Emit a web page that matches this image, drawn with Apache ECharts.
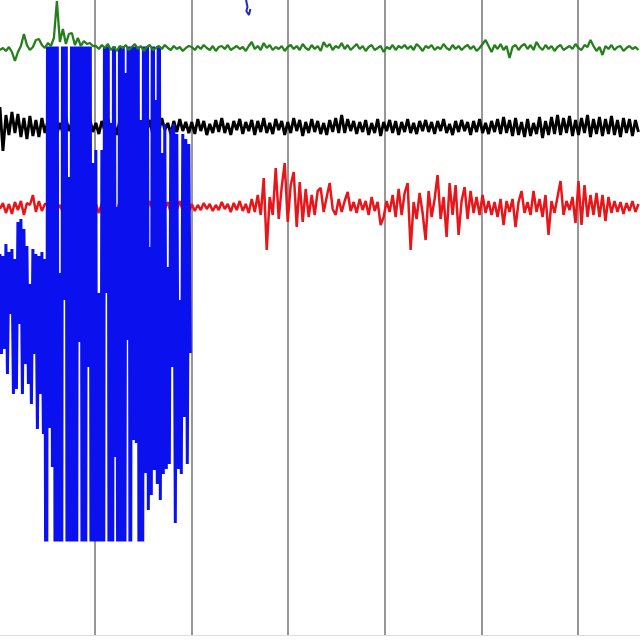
<!DOCTYPE html>
<html>
<head>
<meta charset="utf-8">
<script src="https://cdn.jsdelivr.net/npm/echarts@6/dist/echarts.min.js"></script>
<style>html,body{margin:0;padding:0;background:#fff}#c{width:640px;height:640px}</style>
</head>
<body>
<div id="c"></div>
<script>
// ---- data (amplitudes) ----
const traceStart = 0.2;      // s
const traceStep = 0.31;      // s between samples (green/black/red)
const blueStep = 0.155;      // s between samples (blue)

const greenTrace = [
 -2,0,-3,1,-4,-13,-4,2,14,3,-2,1,8,9,3,0,
 5,2,10,47,6,19,4,14,15,3,10,2,7,4,5,2,
 2,-1,3,0,4,-2,1,-3,2,0,3,-2,1,4,-1,2,-3,1,3,-2,0,2,-1,3,0,-2,2,-1,1,-3,0,2,
 1,-2,2,-1,3,0,-2,2,-3,1,
 2,-1,3,-2,0,2,-1,1,-3,2,
 6,-1,2,-2,5,0,3,-2,1,-1,
 2,-3,1,3,-1,2,-2,4,0,-2,
 3,-1,2,-3,6,1,4,-2,2,0,
 5,-1,3,-2,1,4,-1,2,-3,1,
 3,-2,0,2,-4,1,-1,3,-2,2,
 0,3,-1,2,-2,4,1,-3,2,0,
 3,-2,1,-1,4,0,-2,3,-1,2,
 -2,1,3,-1,2,-3,0,4,8,2,
 -4,3,-1,4,-2,2,-10,1,3,-2,
 2,4,-1,3,-2,6,1,-2,3,-1,
 2,-3,1,3,-2,0,2,-1,4,0,
 -2,3,1,8,2,-3,1,-7,2,-1,
 3,-2,1,2,-3,0,2,-1,1,-2
];

const blackTrace = [
 20,-24,12,-8,15,-6,13,-10,9,-12,11,-9,7,-10,9,-6,
 6,-5,8,-7,4,-6,9,-4,5,-8,7,-3,6,-6,8,-5,
 4,-7,6,-4,9,-6,5,-8,7,-3,4,-6,8,-5,6,-7,
 5,-4,7,-8,6,-5,9,-3,4,-7,6,-5,8,-4,5,-6,
 5,-7,8,-4,6,-8,3,-6,7,-5,
 9,-6,4,-8,6,-3,8,-7,5,-4,
 7,-8,6,-5,9,-6,4,-7,8,-3,
 6,-8,5,-6,9,-4,7,-9,5,-6,
 8,-5,6,-7,4,-8,7,-5,9,-6,
 12,-6,8,-4,6,-7,5,-5,7,-8,
 4,-6,8,-9,5,-4,7,-6,6,-8,
 5,-5,8,-6,4,-7,6,-4,7,-5,
 5,-7,6,-4,8,-6,3,-8,6,-5,
 7,-4,5,-8,6,-5,8,-6,4,-7,
 6,-5,8,-7,10,-6,7,-9,9,-8,
 5,-10,8,-9,4,-7,10,-11,6,-8,
 10,-7,12,-8,9,-6,11,-9,7,-8,
 9,-6,12,-10,8,-7,10,-9,8,-7,
 11,-8,7,-10,9,-6,8,-9,7,-5
];

const redTrace = [
 -2,4,-6,3,-7,5,-3,6,-8,4,2,12,-5,6,-4,3,
 3,-4,5,-3,2,-5,4,-2,6,-4,3,-5,2,-3,5,-4,
 3,-6,4,-2,5,-3,2,-4,6,-5,3,-2,4,-6,5,-3,
 2,-4,6,-3,4,-5,3,-2,5,-6,4,-3,6,-4,2,-5,
 3,-4,2,-3,4,-2,3,-4,2,-3,
 5,-2,3,-5,4,-3,6,-4,3,-6,
 8,-5,12,-8,29,-43,10,-8,39,-12,
 20,44,-15,22,35,-20,25,-15,18,-10,
 12,-8,16,19,-5,10,24,-2,-8,8,
 -5,6,15,-4,5,-6,8,-3,6,-8,
 10,-4,5,-18,-10,6,-5,12,-10,18,
 -8,14,24,-43,5,-12,14,-6,-33,16,
 -10,8,32,-12,10,-30,24,-8,22,-28,
 6,20,-12,16,-6,10,-8,12,-6,6,
 -8,5,-10,8,-18,6,-5,8,-20,5,
 16,-6,5,-8,16,-5,8,-10,12,-28,
 6,-6,10,26,-8,6,-3,10,-16,26,
 -18,22,-10,12,-8,14,-10,12,-14,10,
 -6,6,-5,5,-7,4,-4,6,-5,3
];

const blueTrace = [
 40,-60,38,-55,50,-80,42,-20,45,-100,35,-95,72,-30,75,-100,65,-70,48,-90,10,-110,45,-60,40,-135,38,-100,42,-140,35,
 -600,600,-134,600,-173,600,-600,600,-600,21,
 -600,600,-6,600,-600,117,-600,600,-600,600,
 -600,600,-48,600,-600,600,-600,600,-73,600,
 -600,131,-600,144,-600,1,-600,144,-600,600,
 1,600,-600,171,-600,600,-163,87,-600,600,
 -600,600,-600,221,-46,600,-600,600,-146,600,
 -149,600,-600,174,
 -600,600,-179,600,-216,47,-201,600,-176,194,
 -190,600,-206,141,-180,170,-175,27,-170,165,
 -73,170,-229,160,-175,-6,-180,160,-123,155,
 -170,150,-59
];

// short piece of another trace entering at the top edge
const fragmentTimes  = [25.55, 25.8, 25.68, 25.95, 26.1];
const fragmentValues = [640, 628, 624, 620, 626];

// ---- layout / style ----
const baselines = { green: 587, black: 508, red: 428 };

function series(values, start, step, offset) {
  return values.map((v, i) => [start + i * step, v + offset]);
}

const chart = echarts.init(document.getElementById('c'), null, { renderer: 'canvas' });
chart.setOption({
  backgroundColor: '#ffffff',
  animation: false,
  grid: [
    { left: -2, right: -3, top: 0, height: 635, outerBoundsMode: 'none', containLabel: false },
    { left: -2, right: -3, top: 48, height: 492, outerBoundsMode: 'none', containLabel: false }
  ],
  xAxis: [
    { type: 'value', gridIndex: 0, min: 0, max: 66.7, interval: 10,
      axisLabel: { show: false }, axisTick: { show: false },
      axisLine: { show: true, lineStyle: { color: '#dcdcdc', width: 1 } },
      splitLine: { show: true, showMinLine: false, showMaxLine: false,
                   lineStyle: { color: '#7d7d7d', width: 1.6 } } },
    { type: 'value', gridIndex: 1, min: 0, max: 66.7, show: false, splitLine: { show: false } }
  ],
  yAxis: [
    { type: 'value', gridIndex: 0, min: 0, max: 635, show: false, splitLine: { show: false } },
    { type: 'value', gridIndex: 1, min: -246, max: 246, show: false, splitLine: { show: false } }
  ],
  series: [
    { type: 'line', xAxisIndex: 0, yAxisIndex: 0, symbol: 'none', clip: true,
      data: series(blackTrace, traceStart, traceStep, baselines.black),
      lineStyle: { color: '#000000', width: 2.9 } },
    { type: 'line', xAxisIndex: 0, yAxisIndex: 0, symbol: 'none', clip: true,
      data: series(redTrace, traceStart, traceStep, baselines.red),
      lineStyle: { color: '#e8161a', width: 2.5 } },
    { type: 'line', xAxisIndex: 1, yAxisIndex: 1, symbol: 'none', clip: true,
      data: series(blueTrace, traceStart, blueStep, 0),
      lineStyle: { color: '#0a10ee', width: 3 } },
    { type: 'line', xAxisIndex: 0, yAxisIndex: 0, symbol: 'none', clip: true,
      data: series(greenTrace, traceStart, traceStep, baselines.green),
      lineStyle: { color: '#24801c', width: 2.3 } },
    { type: 'line', xAxisIndex: 0, yAxisIndex: 0, symbol: 'none', clip: true,
      data: fragmentTimes.map((t, i) => [t, fragmentValues[i]]),
      lineStyle: { color: '#1a2ad0', width: 2 } }
  ]
});
</script>
</body>
</html>
